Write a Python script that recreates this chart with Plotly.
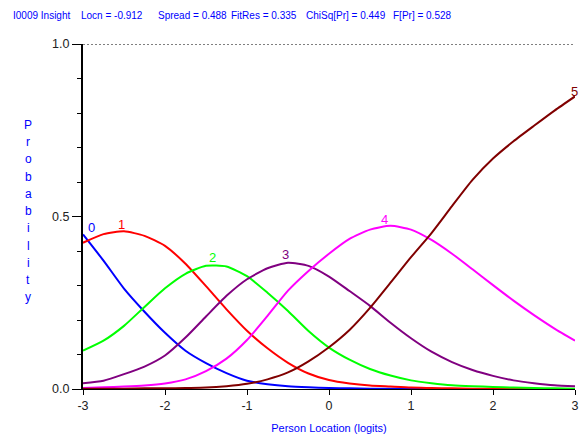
import plotly.graph_objects as go

x = [-3.0, -2.75, -2.5, -2.25, -2.0, -1.75, -1.5, -1.25, -1.0, -0.75, -0.5, -0.25,
     0.0, 0.25, 0.5, 0.75, 1.0, 1.25, 1.5, 1.75, 2.0, 2.25, 2.5, 2.75, 3.0]

cat0 = [0.448, 0.372, 0.291, 0.224, 0.163, 0.111, 0.075, 0.046, 0.024, 0.014, 0.008, 0.005,
        0.003, 0.002, 0.001, 0.001, 0.001, 0.0, 0.0, 0.0, 0.0, 0.0, 0.0, 0.0, 0.0]
cat1 = [0.424, 0.449, 0.457, 0.444, 0.415, 0.363, 0.298, 0.231, 0.169, 0.118, 0.076, 0.045,
        0.026, 0.016, 0.010, 0.007, 0.004, 0.003, 0.002, 0.001, 0.001, 0.0, 0.0, 0.0, 0.0]
cat2 = [0.111, 0.140, 0.183, 0.238, 0.292, 0.334, 0.357, 0.355, 0.327, 0.279, 0.226, 0.168,
        0.120, 0.085, 0.058, 0.039, 0.025, 0.017, 0.011, 0.008, 0.006, 0.004, 0.003, 0.002, 0.001]
cat3 = [0.017, 0.024, 0.043, 0.065, 0.097, 0.149, 0.210, 0.270, 0.318, 0.350, 0.366, 0.357,
        0.326, 0.284, 0.241, 0.192, 0.147, 0.108, 0.078, 0.055, 0.038, 0.025, 0.017, 0.011, 0.008]
cat4 = [0.003, 0.005, 0.007, 0.010, 0.016, 0.028, 0.052, 0.088, 0.142, 0.212, 0.285, 0.342,
        0.392, 0.435, 0.462, 0.473, 0.462, 0.432, 0.392, 0.347, 0.301, 0.256, 0.214, 0.175, 0.140]
cat5 = [0.001, 0.001, 0.001, 0.002, 0.002, 0.003, 0.004, 0.008, 0.015, 0.028, 0.048, 0.080,
        0.121, 0.171, 0.235, 0.308, 0.382, 0.452, 0.530, 0.606, 0.668, 0.718, 0.763, 0.807, 0.848]

series = [cat0, cat1, cat2, cat3, cat4, cat5]
names = ["0", "1", "2", "3", "4", "5"]
colors = ["#0000FF", "#FF0000", "#00FF00", "#800080", "#FF00FF", "#800000"]
label_x = [-2.9, -2.53, -1.42, -0.525, 0.676, 2.99]
label_y = [0.468, 0.477, 0.38, 0.39, 0.491, 0.862]

title_parts = ["I0009 Insight", "Locn = -0.912", "Spread = 0.488", "FitRes = 0.335",
               "ChiSq[Pr] = 0.449", "F[Pr] = 0.528"]
title_centers_px = [41, 112, 193.5, 265, 347.5, 425.5]
ylabel = "Probability"
xlabel = "Person Location (logits)"

FONT = "Liberation Sans, Arial, sans-serif"
BLUE = "#0000FF"

# plot-area geometry in page pixels
PL, PR, PT, PB = 82.5, 579, 44, 390


def px_to_paper(xp, yp):
    return (xp - PL) / (PR - PL), (PB - yp) / (PB - PT)


fig = go.Figure()
for s, n, c in zip(series, names, colors):
    fig.add_trace(go.Scatter(x=x, y=s, mode="lines", name=n,
                             line=dict(color=c, width=2, shape="spline", smoothing=0.6),
                             showlegend=False, hoverinfo="skip"))

for n, c, lx, ly in zip(names, colors, label_x, label_y):
    fig.add_annotation(x=lx, y=ly, text=n, showarrow=False,
                       font=dict(family=FONT, size=13, color=c),
                       xanchor="center", yanchor="middle")

# stacked vertical y-axis label
n_letters = len(ylabel)
top_px, bot_px = 125, 298
for i, ch in enumerate(ylabel):
    ypx = top_px + (bot_px - top_px) * i / (n_letters - 1)
    ax_, ay_ = px_to_paper(27, ypx)
    fig.add_annotation(xref="paper", yref="paper", x=ax_, y=ay_,
                       text=ch, showarrow=False,
                       font=dict(family=FONT, size=12, color=BLUE),
                       xanchor="center", yanchor="middle")

for part, cx in zip(title_parts, title_centers_px):
    ax_, ay_ = px_to_paper(cx, 15)
    fig.add_annotation(xref="paper", yref="paper", x=ax_, y=ay_, text=part,
                       showarrow=False, xanchor="center", yanchor="middle",
                       font=dict(family=FONT, size=10, color=BLUE))

fig.add_shape(type="line", x0=-3, x1=3, y0=1, y1=1, xref="x", yref="y",
              line=dict(color="black", width=1, dash="2px,2px"))

fig.update_layout(
    width=585, height=439,
    margin=dict(l=PL, r=585 - PR, t=PT, b=439 - PB, pad=0),
    paper_bgcolor="white", plot_bgcolor="white",
    font=dict(family=FONT, size=12.5, color="#222222"),
    xaxis=dict(range=[-3, 3], tickvals=[-3, -2, -1, 0, 1, 2, 3],
               ticktext=["-3", "-2", "-1", "0", "1", "2", "3"],
               ticks="outside", ticklen=5, tickcolor="black", tickwidth=1,
               showline=True, linecolor="black", linewidth=1,
               showgrid=False, zeroline=False,
               title=dict(text=xlabel, font=dict(family=FONT, size=11, color=BLUE), standoff=12)),
    yaxis=dict(range=[0, 1], tickvals=[0, 0.5, 1], ticktext=["0.0", "0.5", "1.0"],
               ticks="outside", ticklen=9, tickcolor="black", tickwidth=1,
               minor=dict(dtick=0.1, ticks="outside", ticklen=4, tickcolor="black", showgrid=False),
               showline=True, linecolor="black", linewidth=2,
               showgrid=False, zeroline=False),
)

fig.write_html("out.html", config={"displayModeBar": False},
               post_script="document.body.style.margin='0';")
